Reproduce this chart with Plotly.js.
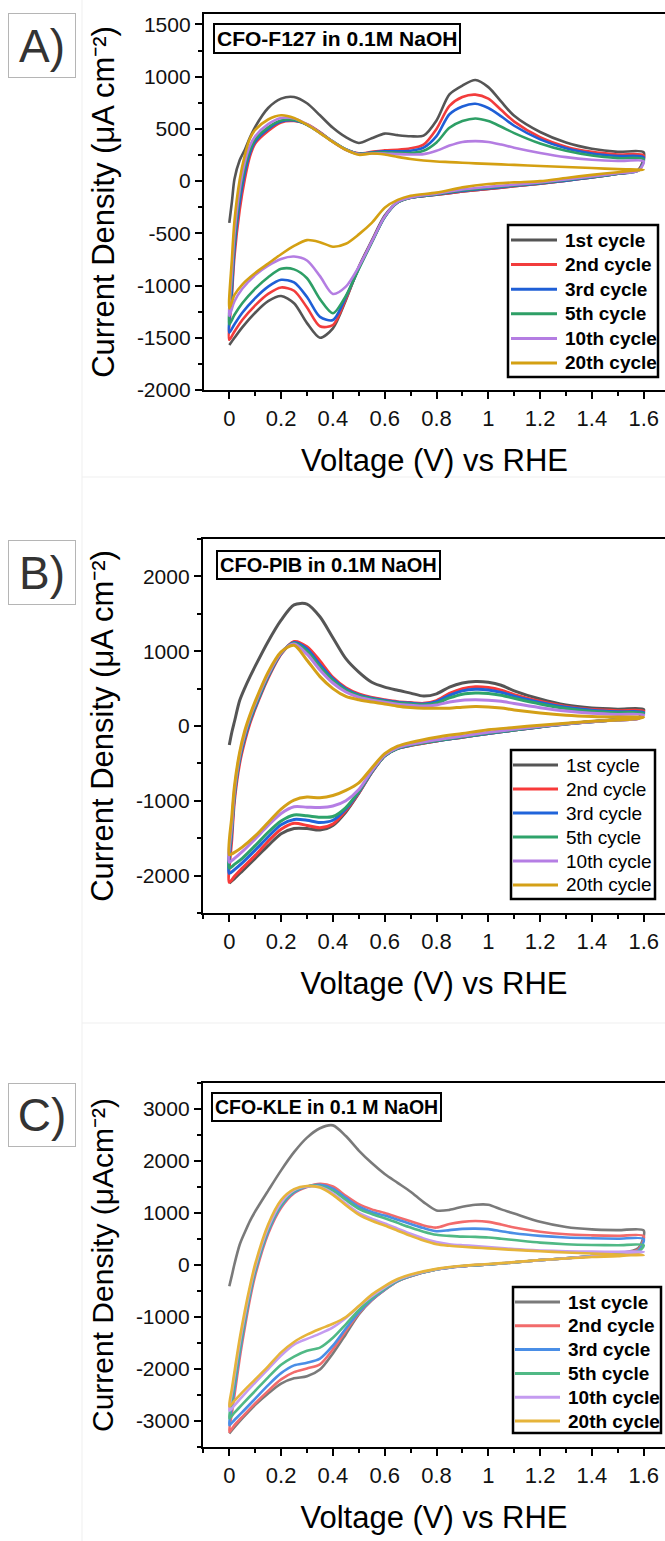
<!DOCTYPE html>
<html><head><meta charset="utf-8">
<script src="https://cdn.plot.ly/plotly-3.0.1.min.js"></script>
<style>html,body{margin:0;padding:0;background:#fff}#plot{width:665px;height:1541px}</style>
</head><body><div id="plot"></div>
<script>
// ---------- DATA ----------
const cycleNames = ['1st cycle','2nd cycle','3rd cycle','5th cycle','10th cycle','20th cycle'];
// anodic sweep (0 -> 1.6 V) and cathodic sweep (1.6 -> 0 V) potentials
const anodicV   = [0,0.01,0.02,0.04,0.06,0.08,0.1,0.15,0.2,0.25,0.3,0.35,0.4,0.45,0.5,0.55,0.6,0.65,0.7,0.75,0.8,0.85,0.9,0.95,1.0,1.05,1.1,1.2,1.3,1.4,1.5,1.6];
const cathodicV = [1.58,1.5,1.4,1.3,1.2,1.1,1.0,0.9,0.8,0.7,0.65,0.6,0.55,0.5,0.45,0.4,0.35,0.3,0.25,0.2,0.15,0.1,0.05,0.02,0];

// Panel A: CFO-F127 (uA cm-2)
const A_up_1  = [-400,-200,20,200,300,420,520,700,790,805,745,630,510,420,365,410,455,440,430,435,580,830,915,968,900,760,625,470,370,310,280,275];
const A_up_2  = [-1520,-1100,-720,-280,20,240,360,480,562,575,545,470,375,300,266,280,295,300,314,350,500,720,805,828,790,680,570,420,330,280,255,245];
const A_up_3  = [-1450,-1050,-650,-200,80,270,380,500,570,580,540,465,380,305,262,275,285,285,290,320,430,640,715,740,700,620,530,400,315,265,240,228];
const A_up_5  = [-1370,-950,-580,-130,130,300,400,515,580,585,540,462,378,303,262,270,275,272,268,290,370,510,575,600,575,520,460,360,290,245,220,210];
const A_up_10 = [-1290,-880,-500,-80,180,340,430,545,605,600,545,462,378,300,258,265,265,258,255,258,290,340,375,383,375,350,320,270,230,205,192,190];
const A_up_20 = [-1220,-750,-380,10,250,410,490,590,630,605,540,460,375,300,252,265,255,232,212,198,188,182,176,170,165,160,155,145,135,125,115,110];
const A_dn_1  = [110,70,35,5,-25,-50,-75,-100,-130,-160,-200,-330,-570,-820,-1140,-1410,-1500,-1360,-1170,-1100,-1150,-1260,-1400,-1500,-1570];
const A_dn_2  = [108,70,35,5,-25,-50,-75,-100,-130,-160,-205,-340,-580,-830,-1130,-1378,-1390,-1210,-1050,-1018,-1080,-1190,-1330,-1440,-1520];
const A_dn_3  = [105,70,35,5,-22,-45,-70,-95,-128,-160,-205,-345,-585,-835,-1110,-1330,-1300,-1110,-970,-945,-1010,-1120,-1260,-1370,-1450];
const A_dn_5  = [103,72,40,10,-18,-40,-63,-88,-125,-160,-205,-345,-590,-840,-1100,-1265,-1130,-930,-845,-840,-920,-1030,-1170,-1280,-1370];
const A_dn_10 = [100,75,45,15,-12,-35,-55,-80,-120,-158,-200,-340,-580,-820,-1010,-1080,-910,-760,-722,-745,-810,-900,-1030,-1150,-1290];
const A_dn_20 = [105,85,60,30,0,-12,-28,-60,-110,-140,-180,-255,-400,-510,-600,-628,-585,-565,-620,-700,-790,-880,-990,-1090,-1220];

// Panel B: CFO-PIB
const B_up_1  = [-254,-80,60,340,510,660,800,1130,1415,1620,1630,1460,1180,900,720,585,520,478,440,400,430,520,575,595,585,545,470,360,280,240,225,222];
const B_up_2  = [-2090,-1500,-1000,-500,-200,40,230,640,960,1130,1060,870,650,512,430,380,350,325,313,303,340,435,500,525,515,480,420,330,260,220,205,200];
const B_up_3  = [-1970,-1400,-930,-450,-160,70,250,660,970,1115,1030,820,630,495,415,372,342,318,305,295,325,410,470,490,482,450,400,315,250,210,190,182];
const B_up_5  = [-1900,-1350,-900,-420,-130,90,270,670,975,1105,1000,790,610,480,405,362,332,308,295,285,305,375,425,440,435,410,370,295,235,198,178,170];
const B_up_10 = [-1820,-1300,-860,-390,-100,120,300,690,980,1095,960,750,575,455,385,345,318,292,278,268,280,320,345,350,345,330,300,245,200,170,155,150];
const B_up_20 = [-1720,-1200,-800,-350,-60,150,330,720,990,1080,880,660,500,395,350,320,295,265,248,238,236,238,252,260,255,240,215,175,145,128,120,118];
const B_dn_1  = [110,85,60,30,-10,-55,-100,-150,-200,-260,-300,-400,-620,-900,-1150,-1330,-1390,-1370,-1370,-1440,-1600,-1770,-1940,-2040,-2100];
const B_dn_2  = [105,82,58,28,-12,-55,-100,-150,-200,-258,-300,-400,-620,-895,-1130,-1310,-1360,-1330,-1300,-1380,-1540,-1730,-1900,-2010,-2090];
const B_dn_3  = [105,82,58,28,-12,-55,-100,-148,-198,-255,-300,-400,-615,-885,-1110,-1260,-1290,-1260,-1250,-1320,-1480,-1660,-1830,-1920,-1970];
const B_dn_5  = [105,82,58,28,-10,-52,-95,-145,-195,-252,-298,-398,-610,-875,-1090,-1210,-1220,-1200,-1190,-1270,-1420,-1600,-1770,-1850,-1900];
const B_dn_10 = [100,80,58,30,-5,-45,-85,-135,-185,-245,-290,-390,-600,-850,-1000,-1070,-1090,-1085,-1080,-1170,-1330,-1510,-1680,-1770,-1820];
const B_dn_20 = [100,80,62,38,10,-20,-50,-100,-150,-220,-270,-370,-560,-760,-860,-930,-960,-950,-990,-1110,-1290,-1470,-1620,-1690,-1720];

// Panel C: CFO-KLE
const C_up_1  = [-409,-200,20,390,630,850,1030,1430,1820,2170,2450,2630,2685,2480,2200,1960,1750,1580,1410,1210,1050,1060,1120,1160,1160,1070,990,830,730,685,670,665];
const C_up_2  = [-3210,-2850,-2500,-1800,-1200,-650,-200,600,1100,1380,1500,1560,1510,1330,1170,1070,1000,920,840,760,720,790,830,845,830,780,720,640,590,570,560,557];
const C_up_3  = [-3080,-2720,-2380,-1700,-1110,-580,-140,640,1130,1400,1510,1540,1470,1290,1120,1020,950,870,790,710,650,670,695,700,690,650,610,560,530,515,505,500];
const C_up_5  = [-2950,-2600,-2270,-1620,-1050,-530,-100,680,1160,1420,1510,1520,1430,1250,1080,980,900,810,720,640,580,560,545,540,530,505,480,430,400,385,380,380];
const C_up_10 = [-2800,-2460,-2130,-1500,-960,-460,-40,720,1200,1440,1510,1500,1380,1180,1000,890,800,700,600,510,440,400,380,365,345,325,305,280,265,258,255,255];
const C_up_20 = [-2720,-2380,-2050,-1420,-880,-400,20,780,1250,1460,1520,1490,1350,1150,970,850,760,660,560,470,400,370,350,335,320,305,290,265,240,220,200,185];
const C_dn_1  = [330,220,170,130,93,50,10,-23,-87,-215,-312,-480,-680,-950,-1330,-1700,-2010,-2140,-2180,-2280,-2470,-2690,-2950,-3120,-3240];
const C_dn_2  = [300,210,170,130,93,50,10,-23,-87,-215,-312,-475,-675,-930,-1270,-1620,-1910,-1990,-2060,-2200,-2420,-2660,-2920,-3080,-3210];
const C_dn_3  = [280,205,170,130,93,50,10,-23,-87,-212,-310,-470,-665,-910,-1220,-1550,-1800,-1880,-1930,-2080,-2310,-2570,-2830,-2980,-3080];
const C_dn_5  = [260,200,170,130,93,50,12,-20,-84,-205,-300,-455,-640,-870,-1140,-1400,-1590,-1650,-1760,-1920,-2160,-2420,-2680,-2840,-2950];
const C_dn_10 = [235,190,165,128,93,52,15,-18,-80,-195,-285,-430,-600,-800,-1020,-1200,-1320,-1420,-1530,-1740,-2000,-2260,-2530,-2700,-2800];
const C_dn_20 = [200,170,155,125,95,55,18,-15,-75,-185,-270,-405,-570,-790,-1000,-1130,-1230,-1340,-1480,-1680,-1950,-2200,-2450,-2610,-2720];

// tick labels
const xTickVals = [0,0.2,0.4,0.6,0.8,1,1.2,1.4,1.6];
const xTickText = ['0','0.2','0.4','0.6','0.8','1','1.2','1.4','1.6'];
const A_yTickVals = [-2000,-1500,-1000,-500,0,500,1000,1500];
const A_yTickText = ['-2000','-1500','-1000','-500','0','500','1000','1500'];
const B_yTickVals = [-2000,-1000,0,1000,2000];
const B_yTickText = ['-2000','-1000','0','1000','2000'];
const C_yTickVals = [-3000,-2000,-1000,0,1000,2000,3000];
const C_yTickText = ['-3000','-2000','-1000','0','1000','2000','3000'];

// ---------- LAYOUT / STYLE ----------
const W = 665, H = 1541;
const fx = p => p / W, fy = p => 1 - p / H;
const FONT = 'Liberation Sans, Arial, sans-serif';
const NB = '\u00A0';

const colA = ['#555555','#f23c3c','#1f5fd6','#2e9f66','#b47de2','#d4a012'];
const colB = ['#555555','#f83a3a','#2064da','#2ea36b','#b57ee4','#d4a017'];
const colC = ['#7a7a7a','#f26b6b','#4a8ee6','#50b985','#c49bf0','#e6b43a'];

const panels = [
  {ax:'', up:[A_up_1,A_up_2,A_up_3,A_up_5,A_up_10,A_up_20], dn:[A_dn_1,A_dn_2,A_dn_3,A_dn_5,A_dn_10,A_dn_20], col:colA, lw:2.6,
   top:14, bot:390, left:204, yr:[-2000,1600], tv:A_yTickVals, tt:A_yTickText, minor:250,
   label:'A)', box:[8,13,76,78], note:'CFO-F127 in 0.1M NaOH', noteXY:[213,23], noteSize:21,
   leg:{box:[508,225,658,377], y0:240, dy:24.6, lx:[511,557], tx:563, bold:true},
   ytitle:'Current Density (μA cm⁻²)', ytSize:31},
  {ax:'2', up:[B_up_1,B_up_2,B_up_3,B_up_5,B_up_10,B_up_20], dn:[B_dn_1,B_dn_2,B_dn_3,B_dn_5,B_dn_10,B_dn_20], col:colB, lw:3,
   top:539, bot:913, left:203, yr:[-2500,2500], tv:B_yTickVals, tt:B_yTickText, minor:500,
   label:'B)', box:[8,540,76,605], note:'CFO-PIB in 0.1M NaOH', noteXY:[216,550], noteSize:20,
   leg:{box:[511,750,655,899], y0:765, dy:24, lx:[513,558], tx:564, bold:false},
   ytitle:NB+NB+NB+NB+'Current Density (μA cm⁻²)', ytSize:31},
  {ax:'3', up:[C_up_1,C_up_2,C_up_3,C_up_5,C_up_10,C_up_20], dn:[C_dn_1,C_dn_2,C_dn_3,C_dn_5,C_dn_10,C_dn_20], col:colC, lw:2.6,
   top:1083, bot:1447, left:203, yr:[-3500,3500], tv:C_yTickVals, tt:C_yTickText, minor:500,
   label:'C)', box:[8,1083,76,1147], note:'CFO-KLE in 0.1 M NaOH', noteXY:[211,1092], noteSize:19.5,
   leg:{box:[513,1287,661,1433], y0:1302, dy:23.8, lx:[515,560], tx:566, bold:true},
   ytitle:NB+NB+NB+NB+'Current Density (μAcm⁻²)', ytSize:30}
];

const traces = [];
const layout = {
  width: W, height: H, margin:{l:0,r:0,t:0,b:0}, showlegend:false,
  paper_bgcolor:'#ffffff', plot_bgcolor:'#ffffff',
  font:{family:FONT, color:'#000'},
  annotations: [],
  shapes: [
    // faint panel-composite seams
    {type:'line', xref:'paper', yref:'paper', x0:fx(82), x1:fx(82), y0:0, y1:1, line:{color:'#efefef', width:1}, layer:'below'},
    {type:'line', xref:'paper', yref:'paper', x0:fx(82), x1:1, y0:fy(477), y1:fy(477), line:{color:'#efefef', width:1}, layer:'below'},
    {type:'line', xref:'paper', yref:'paper', x0:fx(82), x1:1, y0:fy(1023), y1:fy(1023), line:{color:'#efefef', width:1}, layer:'below'}
  ]
};

panels.forEach(p => {
  const xa = 'x' + p.ax, ya = 'y' + p.ax;
  const xk = 'xaxis' + p.ax, yk = 'yaxis' + p.ax;
  const xRight = (W - 229.3) / 259;
  for (let i = 0; i < 6; i++) {
    traces.push({
      type:'scatter', mode:'lines', xaxis:xa, yaxis:ya, name:cycleNames[i],
      x: anodicV.concat(cathodicV), y: p.up[i].concat(p.dn[i]),
      line:{color:p.col[i], width:p.lw, shape:'spline', smoothing:0.8},
      hoverinfo:'skip'
    });
  }
  layout[xk] = {
    domain:[fx(p.left), 1], anchor:ya, range:[(p.left - 229.3)/259, xRight],
    tickmode:'array', tickvals:xTickVals, ticktext:xTickText,
    ticks:'outside', ticklen:7, tickwidth:2, tickcolor:'#000',
    minor:{tickmode:'linear', tick0:0, dtick:0.1, ticks:'outside', ticklen:4, tickwidth:2, tickcolor:'#000', showgrid:false},
    showline:true, linewidth:2.2, linecolor:'#000', mirror:true, automargin:false,
    showgrid:false, zeroline:false, tickfont:{size:22, family:FONT, color:'#111'}, fixedrange:true,
    title:{text:'Voltage (V) vs RHE', font:{size:31, family:FONT, color:'#000'}, standoff:20}
  };
  layout[yk] = {
    domain:[fy(p.bot), fy(p.top)], anchor:xa, range:p.yr,
    tickmode:'array', tickvals:p.tv, ticktext:p.tt,
    ticks:'outside', ticklen:7, tickwidth:2, tickcolor:'#000',
    minor:{tickmode:'linear', tick0:0, dtick:p.minor, ticks:'outside', ticklen:4, tickwidth:2, tickcolor:'#000', showgrid:false},
    showline:true, linewidth:2.2, linecolor:'#000', mirror:false, automargin:false,
    showgrid:false, zeroline:false, tickfont:{size:21, family:FONT, color:'#111'}, fixedrange:true,
    title:{text:p.ytitle, font:{size:p.ytSize, family:FONT, color:'#000'}, standoff:13}
  };
  // panel letter box
  layout.annotations.push({
    xref:'paper', yref:'paper', x:fx(p.box[0]), y:fy(p.box[1]), xanchor:'left', yanchor:'top',
    text:p.label, showarrow:false, font:{size:46, family:FONT, color:'#333'},
    width:p.box[2]-p.box[0]-4, height:p.box[3]-p.box[1]-4, borderpad:1,
    bordercolor:'#b5b5b5', borderwidth:1, bgcolor:'#fff', align:'center', valign:'middle'
  });
  // sample label box
  layout.annotations.push({
    xref:'paper', yref:'paper', x:fx(p.noteXY[0]), y:fy(p.noteXY[1]), xanchor:'left', yanchor:'top',
    text:'<b>'+p.note+'</b>', showarrow:false, font:{size:p.noteSize, family:FONT, color:'#000'},
    bordercolor:'#000', borderwidth:2, borderpad:2, bgcolor:'#fff'
  });
  // legend (drawn as a boxed key)
  const L = p.leg;
  layout.shapes.push({type:'rect', xref:'paper', yref:'paper', x0:fx(L.box[0]), x1:fx(L.box[2]), y0:fy(L.box[1]), y1:fy(L.box[3]),
    line:{color:'#000', width:2.5}, fillcolor:'#fff', layer:'above'});
  for (let i = 0; i < 6; i++) {
    const yy = L.y0 + i * L.dy;
    layout.shapes.push({type:'line', xref:'paper', yref:'paper', x0:fx(L.lx[0]), x1:fx(L.lx[1]), y0:fy(yy), y1:fy(yy),
      line:{color:p.col[i], width:3}, layer:'above'});
    layout.annotations.push({xref:'paper', yref:'paper', x:fx(L.tx), y:fy(yy), xanchor:'left', yanchor:'middle',
      text: L.bold ? '<b>'+cycleNames[i]+'</b>' : cycleNames[i], showarrow:false,
      font:{size:19, family:FONT, color:'#000'}});
  }
});

Plotly.newPlot('plot', traces, layout, {staticPlot:true, displayModeBar:false});
</script></body></html>
